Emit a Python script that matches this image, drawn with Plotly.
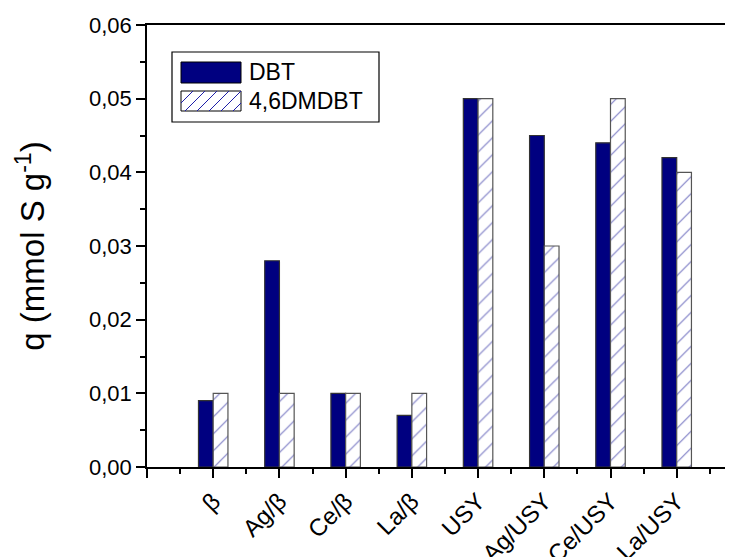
import plotly.graph_objects as go

categories = ["β", "Ag/β", "Ce/β", "La/β", "USY", "Ag/USY", "Ce/USY", "La/USY"]
dbt = [0.009, 0.028, 0.010, 0.007, 0.050, 0.045, 0.044, 0.042]
dmdbt = [0.010, 0.010, 0.010, 0.010, 0.050, 0.030, 0.050, 0.040]
series_names = ["DBT", "4,6DMDBT"]

OFF = 8  # page body margin
W, H = 733 - OFF, 557 - OFF
ML, MT = 147 - OFF, 25 - OFF
MR = 0
MB = H - (467 - OFF)
PW, PH = W - ML - MR, H - MT - MB

def px(x):
    # x in screenshot pixels -> paper coords
    return (x - OFF - ML) / PW

def py(y):
    return (H - MB - (y - OFF)) / PH

xpos = list(range(len(categories)))
NAVY = "#000080"
HATCH = "#00008c"
FONT = "Liberation Sans, Arial, sans-serif"

fig = go.Figure()
fig.add_trace(go.Bar(
    x=xpos, y=dbt, name=series_names[0],
    marker=dict(color=NAVY, line=dict(color="#333333", width=1.2)),
    showlegend=False,
))
fig.add_trace(go.Bar(
    x=xpos, y=dmdbt, name=series_names[1],
    marker=dict(color="white", line=dict(color="#555555", width=1.2),
                pattern=dict(shape="/", fgcolor=HATCH, bgcolor="white", size=12, solidity=0.1)),
    showlegend=False,
))

# manual legend
shapes = []
shapes.append(dict(type="rect", xref="paper", yref="paper",
                   x0=px(172), x1=px(379), y0=py(122), y1=py(52),
                   line=dict(color="black", width=1.2), fillcolor="white", layer="above"))
shapes.append(dict(type="rect", xref="paper", yref="paper",
                   x0=px(181), x1=px(241), y0=py(83), y1=py(62),
                   line=dict(color="black", width=1), fillcolor=NAVY, layer="above"))
shapes.append(dict(type="rect", xref="paper", yref="paper",
                   x0=px(181), x1=px(241), y0=py(111), y1=py(91),
                   line=dict(color="black", width=1), fillcolor="white", layer="above"))
x0s, x1s, y0s, y1s = 181, 241, 91, 111
step = 12
path = ""
k = x0s - (y1s - y0s)
while k < x1s:
    ax, ay = k, y1s
    bx, by = k + (y1s - y0s), y0s
    if ax < x0s:
        ay = y1s - (x0s - ax)
        ax = x0s
    if bx > x1s:
        by = y0s + (bx - x1s)
        bx = x1s
    if bx > ax:
        path += f"M{px(ax)},{py(ay)} L{px(bx)},{py(by)} "
    k += step
shapes.append(dict(type="path", xref="paper", yref="paper", path=path,
                   line=dict(color="#1e1ea8", width=1), layer="above"))

annotations = [
    dict(x=px(247), y=py(72.5), xref="paper", yref="paper", text=series_names[0],
         showarrow=False, xanchor="left", yanchor="middle", font=dict(size=23, color="black", family=FONT)),
    dict(x=px(247), y=py(101), xref="paper", yref="paper", text=series_names[1],
         showarrow=False, xanchor="left", yanchor="middle", font=dict(size=23, color="black", family=FONT)),
]

fig.update_layout(
    width=W, height=H,
    margin=dict(l=ML, r=MR, t=MT, b=MB),
    paper_bgcolor="white", plot_bgcolor="white",
    barmode="group", bargap=0.555, bargroupgap=0,
    separators=",.",
    font=dict(family=FONT, color="black", size=22),
    shapes=shapes, annotations=annotations,
    showlegend=False,
)
fig.update_xaxes(
    range=[-1, 7.85], automargin=False,
    tickmode="array", tickvals=[-1] + xpos, ticktext=[""] + categories,
    tickangle=-45, ticks="outside", ticklen=9, tickwidth=1.5, tickcolor="black",
    showline=True, linecolor="black", linewidth=1.5, mirror=True,
    showgrid=False, zeroline=False,
    tickfont=dict(size=24, family=FONT, color="black"),
    minor=dict(tickmode="linear", tick0=-0.5, dtick=1, ticks="outside", ticklen=5, tickwidth=1.5, tickcolor="black", showgrid=False),
)
fig.update_yaxes(
    range=[0, 0.06], dtick=0.01, tick0=0, tickformat=".2f", automargin=False,
    ticks="outside", ticklen=9, tickwidth=1.5, tickcolor="black",
    showline=True, linecolor="black", linewidth=1.5,
    showgrid=False, zeroline=False,
    tickfont=dict(size=22, family=FONT, color="black"),
    minor=dict(dtick=0.005, ticks="outside", ticklen=5, tickwidth=1.5, tickcolor="black", showgrid=False),
    title=dict(text="q (mmol S g<sup>-1</sup>)", font=dict(size=33, family=FONT, color="black"), standoff=34),
)

fig.write_html("out.html")
